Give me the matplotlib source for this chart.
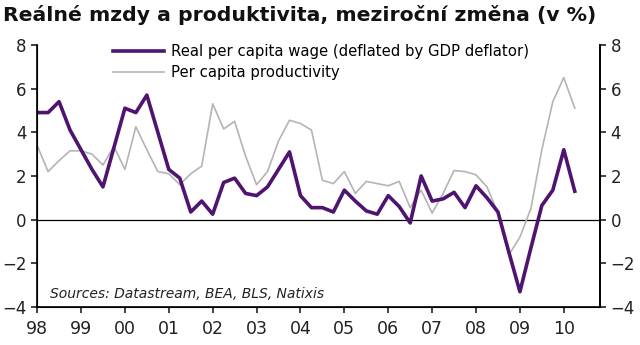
import matplotlib
matplotlib.use("Agg")
import matplotlib.pyplot as plt

plt.rcParams['font.family'] = ['DejaVu Sans']

# quarterly, 1998Q1 .. 2010Q2
wage = [4.9, 4.9, 5.4, 4.1, 3.2, 2.3, 1.5, 3.3, 5.1, 4.9,
        5.7, 4.0, 2.3, 1.9, 0.35, 0.85, 0.25, 1.7, 1.9, 1.2,
        1.1, 1.5, 2.3, 3.1, 1.1, 0.55, 0.55, 0.35, 1.35, 0.85,
        0.4, 0.25, 1.1, 0.6, -0.15, 2.0, 0.85, 0.95, 1.25, 0.55,
        1.55, 1.0, 0.35, -1.5, -3.3, -1.3, 0.65, 1.35, 3.2, 1.3]
productivity = [3.4, 2.2, 2.7, 3.15, 3.15, 3.0, 2.5, 3.35, 2.3, 4.25,
                3.2, 2.2, 2.1, 1.6, 2.1, 2.45, 5.3, 4.15, 4.5, 2.9,
                1.6, 2.2, 3.6, 4.55, 4.4, 4.1, 1.8, 1.65, 2.2, 1.2,
                1.75, 1.65, 1.55, 1.75, 0.55, 1.35, 0.3, 1.2, 2.25, 2.2,
                2.05, 1.5, 0.3, -1.6, -0.8, 0.5, 3.2, 5.4, 6.5, 5.1]
year_labels = ['98', '99', '00', '01', '02', '03', '04', '05', '06', '07', '08', '09', '10']

fig = plt.figure(figsize=(6.4, 3.45), dpi=100)
ax = fig.add_axes([0.058, 0.110, 0.8795, 0.760])

x = range(len(wage))
ax.plot(x, productivity, color='#b4b4b4', lw=1.2, label='Per capita productivity', zorder=3)
ax.plot(x, wage, color='#4e1470', lw=2.6, label='Real per capita wage (deflated by GDP deflator)', zorder=4)
ax.axhline(0, color='black', lw=0.9, zorder=2)

ax.set_xlim(0, 51.3)
ax.set_ylim(-4, 8)
ax.set_yticks(range(-4, 9, 2))
ax.set_xticks(range(0, 4 * len(year_labels), 4))
ax.set_xticklabels(year_labels)
ax.tick_params(axis='x', labelsize=12.5, length=4, width=1.2, pad=5, colors='#222222')
ax.tick_params(axis='y', labelsize=12, length=4, width=1.2, colors='#222222')

ax.spines['top'].set_visible(False)
for s in ['left', 'right', 'bottom']:
    ax.spines[s].set_linewidth(1.2)

ax2 = ax.twinx()
ax2.set_ylim(-4, 8)
ax2.set_yticks(range(-4, 9, 2))
ax2.tick_params(axis='y', labelsize=12, length=4, width=1.2, colors='#222222')
ax2.spines['top'].set_visible(False)
ax2.spines['right'].set_linewidth(1.2)

h, l = ax.get_legend_handles_labels()
ax.legend(h[::-1], l[::-1], loc='upper left', bbox_to_anchor=(0.125, 1.025), frameon=False,
          fontsize=10.7, handlelength=3.4, handletextpad=0.5, labelspacing=0.4, borderaxespad=0)

ax.text(0.022, 0.035, 'Sources: Datastream, BEA, BLS, Natixis', transform=ax.transAxes,
        fontsize=10, style='italic', color='#222222')

fig.text(0.005, 0.985, 'Reálné mzdy a produktivita, meziroční změna (v %)', fontsize=14.7,
         fontweight='bold', va='top', ha='left', color='#111111')

plt.savefig('out.png', dpi=100)
